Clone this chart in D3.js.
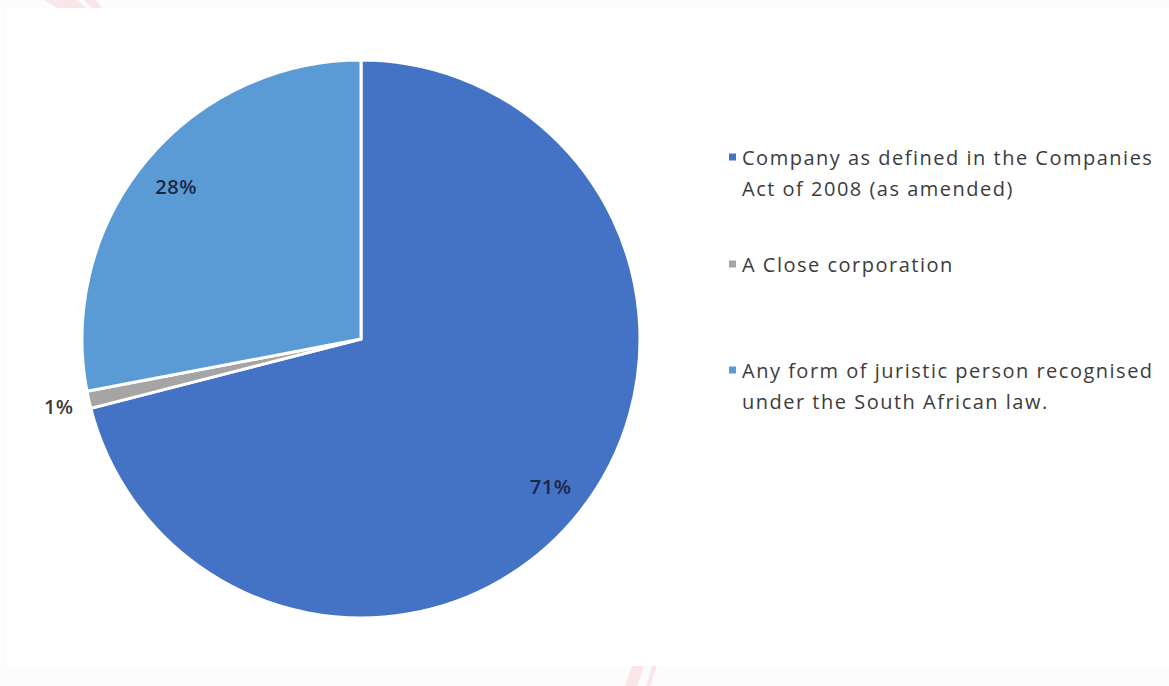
<!DOCTYPE html>
<html>
<head>
<meta charset="utf-8">
<script src="https://cdn.jsdelivr.net/npm/d3@7/dist/d3.min.js"></script>
<style>
  html, body { margin: 0; padding: 0; background: #ffffff; }
  svg { display: block; }
</style>
</head>
<body>
<svg id="chart" width="1169" height="686"></svg>
<script>
// Entity types and their share of respondents (%)
const categories = [
  "Company as defined in the Companies Act of 2008 (as amended)",
  "A Close corporation",
  "Any form of juristic person recognised under the South African law."
];
const legendLines = [
  ["Company as defined in the Companies", "Act of 2008 (as amended)"],
  ["A Close corporation"],
  ["Any form of juristic person recognised", "under the South African law."]
];
const values = [71, 1, 28];
const valueLabels = ["71%", "1%", "28%"];
const colors = ["#4472C4", "#A5A5A5", "#5B9BD5"];

const svg = d3.select("#chart");
const W = 1169, H = 686;

// page frame: faint grey margins and pale pink corner marks
svg.append("rect").attr("x", 0).attr("y", 0).attr("width", W).attr("height", H).attr("fill", "#fcfcfc");
svg.append("rect").attr("x", 7).attr("y", 8).attr("width", W - 7).attr("height", 658).attr("fill", "#ffffff");
const marks = [
  [[44, 0], [78, 0], [86, 8], [58, 8]],
  [[84, 0], [96, 0], [102, 8], [92, 8]],
  [[632, 666], [644, 666], [637, 686], [625, 686]],
  [[652, 666], [657, 666], [650, 686], [646, 686]]
];
svg.selectAll("polygon.mark")
  .data(marks)
  .join("polygon")
  .attr("class", "mark")
  .attr("points", d => d.map(p => p.join(",")).join(" "))
  .attr("fill", "#f9e6e8");

const cx = 361, cy = 339, R = 279;

const pie = d3.pie().sort(null).value(d => d)(values);
const arc = d3.arc().innerRadius(0).outerRadius(R);

const g = svg.append("g").attr("transform", `translate(${cx},${cy})`);

g.selectAll("path.slice")
  .data(pie)
  .join("path")
  .attr("class", "slice")
  .attr("d", arc)
  .attr("fill", (d, i) => colors[i])
  .attr("stroke", "#ffffff")
  .attr("stroke-width", 3)
  .attr("stroke-linejoin", "round");

// value labels: inside for large slices, outside for the thin one
const inner = d3.arc().innerRadius(R * 0.86).outerRadius(R * 0.86);
const outer = d3.arc().innerRadius(R * 1.11).outerRadius(R * 1.11);
g.selectAll("text.val")
  .data(pie)
  .join("text")
  .attr("class", "val")
  .attr("transform", d => {
    const p = (d.data < 5 ? outer : inner).centroid(d);
    return `translate(${p[0]},${p[1]})`;
  })
  .attr("text-anchor", "middle")
  .attr("dominant-baseline", "central")
  .attr("font-family", "'Open Sans', sans-serif")
  .attr("font-size", 20)
  .attr("font-weight", 600)
  .attr("letter-spacing", 0.5)
  .attr("fill", (d) => d.data < 5 ? "#3a3a3a" : "#1b2746")
  .text((d, i) => valueLabels[i]);

// legend
const legendX = 729, textX = 742;
const legendTops = [157, 264, 370];
const lineH = 31;
const lg = svg.append("g");
categories.forEach((c, i) => {
  const y0 = legendTops[i];
  lg.append("rect")
    .attr("x", legendX).attr("y", y0 - 3.5)
    .attr("width", 7).attr("height", 7)
    .attr("fill", colors[i]);
  const t = lg.append("text")
    .attr("font-family", "'Open Sans', sans-serif")
    .attr("font-size", 20)
    .attr("letter-spacing", 1.5)
    .attr("fill", "#3c3c3c");
  legendLines[i].forEach((ln, j) => {
    t.append("tspan")
      .attr("x", textX)
      .attr("y", y0 + j * lineH)
      .attr("dominant-baseline", "central")
      .text(ln);
  });
});
</script>
</body>
</html>
